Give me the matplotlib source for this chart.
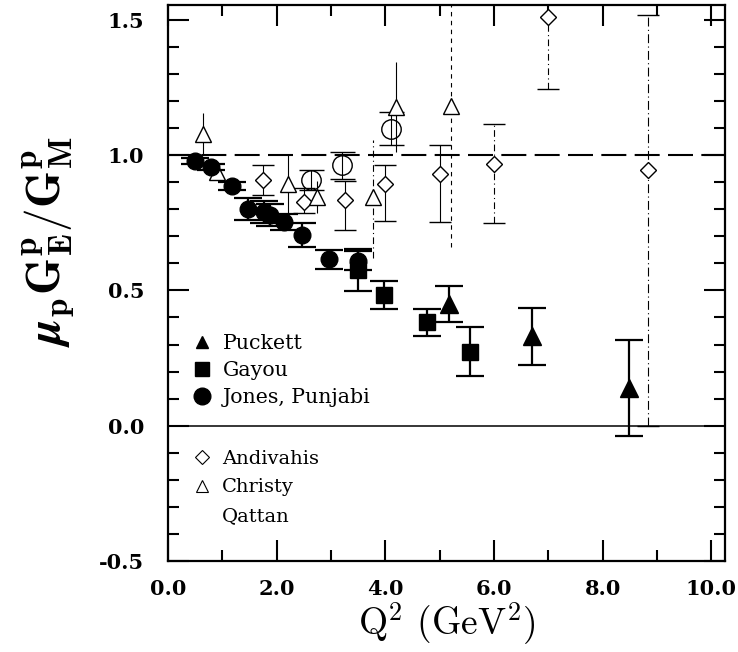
import matplotlib
matplotlib.use("Agg")
import matplotlib.pyplot as plt
from matplotlib.lines import Line2D
from matplotlib.ticker import MultipleLocator, FormatStrFormatter

plt.rcParams['mathtext.fontset'] = 'cm'
plt.rcParams['axes.unicode_minus'] = True

# ---------------- data ----------------
jones_q2 = [0.49, 0.79, 1.18, 1.48, 1.77, 1.88, 2.13, 2.47, 2.97, 3.50]
jones_r = [0.978, 0.957, 0.887, 0.800, 0.789, 0.779, 0.752, 0.705, 0.615, 0.610]
jones_err = [0.010, 0.012, 0.015, 0.040, 0.040, 0.040, 0.030, 0.043, 0.035, 0.035]

gayou_q2 = [3.50, 3.97, 4.76, 5.56]
gayou_r = [0.575, 0.483, 0.382, 0.274]
gayou_err = [0.077, 0.052, 0.050, 0.090]

puckett_q2 = [5.17, 6.70, 8.49]
puckett_r = [0.449, 0.330, 0.140]
puckett_err = [0.067, 0.106, 0.178]

andivahis_q2 = [1.75, 2.50, 3.25, 4.00, 5.00, 6.00, 7.00, 8.83]
andivahis_r = [0.908, 0.828, 0.835, 0.895, 0.932, 0.969, 1.510, 0.945]
andivahis_lo = [0.055, 0.040, 0.110, 0.140, 0.178, 0.220, 0.265, 0.945]
andivahis_hi = [0.055, 0.050, 0.070, 0.068, 0.105, 0.148, 0.265, 0.572]

christy_q2 = [0.65, 0.90, 2.20, 2.75, 3.78, 4.20, 5.20]
christy_r = [1.080, 0.938, 0.895, 0.846, 0.846, 1.178, 1.180]
christy_lo = [0.075, 0.030, 0.107, 0.060, 0.226, 0.165, 0.520]
christy_hi = [0.075, 0.030, 0.107, 0.060, 0.210, 0.165, 0.520]

qattan_q2 = [2.64, 3.20, 4.10]
qattan_r = [0.908, 0.963, 1.098]
qattan_err = [0.036, 0.050, 0.060]

x_ticks = [0.0, 2.0, 4.0, 6.0, 8.0, 10.0]
y_ticks = [-0.5, 0.0, 0.5, 1.0, 1.5]

filled_labels = ["Puckett", "Gayou", "Jones, Punjabi"]
open_labels = ["Andivahis", "Christy", "Qattan"]

# error-bar line styles (style only)
andivahis_ls = ['solid', 'solid', 'solid', 'solid', 'solid', (0, (6, 3, 1, 3)), (0, (6, 3, 1, 3)), (0, (8, 3, 1, 3))]
christy_ls = ['solid', 'solid', 'solid', 'solid', (0, (6, 3, 1, 3)), 'solid', (0, (4, 4))]

# ---------------- figure ----------------
fig = plt.figure(figsize=(7.38, 6.52), dpi=100)
ax = fig.add_axes([168/738, 1-561/652, (725-168)/738, (561-5)/652])

ax.set_xlim(0, 10.25)
ax.set_ylim(-0.5, 1.555)

# reference lines
ax.axhline(1.0, color='k', lw=1.5, ls=(0, (12, 4)), zorder=1)
ax.axhline(0.0, color='k', lw=1.1, zorder=1)

# open symbols (thin)
eb = ax.errorbar(andivahis_q2, andivahis_r, yerr=[andivahis_lo, andivahis_hi], fmt='D',
                 ms=8.5, mfc='white', mec='k', mew=1.0, ecolor='k', elinewidth=0.8,
                 capsize=8, capthick=0.8, zorder=3)
eb[2][0].set_linestyles(andivahis_ls)
eb = ax.errorbar(christy_q2, christy_r, yerr=[christy_lo, christy_hi], fmt='^',
                 ms=12, mfc='white', mec='k', mew=1.0, ecolor='k', elinewidth=0.8,
                 capsize=0, zorder=3)
eb[2][0].set_linestyles(christy_ls)
ax.errorbar(qattan_q2, qattan_r, yerr=qattan_err, fmt='o',
            ms=14, mfc='none', mec='k', mew=1.0, ecolor='k', elinewidth=0.8,
            capsize=9, capthick=1.2, zorder=3)

# filled symbols
ax.errorbar(jones_q2, jones_r, yerr=jones_err, fmt='o', ms=12, color='k',
            elinewidth=1.6, capsize=10, capthick=1.6, zorder=4)
ax.errorbar(gayou_q2, gayou_r, yerr=gayou_err, fmt='s', ms=11, color='k',
            elinewidth=1.6, capsize=10, capthick=1.6, zorder=4)
ax.errorbar(puckett_q2, puckett_r, yerr=puckett_err, fmt='^', ms=13, color='k',
            elinewidth=1.6, capsize=10, capthick=1.6, zorder=4)

# ticks
ax.set_xticks(x_ticks)
ax.set_yticks(y_ticks)
ax.xaxis.set_minor_locator(MultipleLocator(1.0))
ax.yaxis.set_minor_locator(MultipleLocator(0.1))
ax.xaxis.set_major_formatter(FormatStrFormatter('%.1f'))
ax.yaxis.set_major_formatter(FormatStrFormatter('%.1f'))
ax.tick_params(which='both', direction='in', top=True, right=True, width=1.5, colors='k')
ax.tick_params(which='major', length=15)
ax.tick_params(which='minor', length=8)
ax.tick_params(axis='x', which='major', pad=13)
ax.tick_params(axis='y', which='major', pad=17)
for lab in ax.get_xticklabels() + ax.get_yticklabels():
    lab.set_fontfamily('DejaVu Serif')
    lab.set_fontweight('bold')
    lab.set_fontsize(15)
for sp in ax.spines.values():
    sp.set_linewidth(1.6)

# axis labels
ax.set_xlabel(r'Q$^2$ (GeV$^2$)', fontsize=27, fontfamily='cmr10', labelpad=1)
ax.set_ylabel(r'$\boldsymbol{\mu}_{\mathbf{p}}\mathbf{G}^{\mathbf{p}}_{\mathbf{E}}/\mathbf{G}^{\mathbf{p}}_{\mathbf{M}}$',
              fontsize=34)
ax.yaxis.set_label_coords(-0.163, 0.575)

# legends
h1 = [Line2D([], [], ls='none', marker='^', ms=9, color='k'),
      Line2D([], [], ls='none', marker='s', ms=9.5, color='k'),
      Line2D([], [], ls='none', marker='o', ms=12, color='k')]
leg1 = ax.legend(h1, filled_labels, loc='upper left', bbox_to_anchor=(0.024, 0.426),
                 frameon=False, borderpad=0, handlelength=1.0, handletextpad=0.5,
                 labelspacing=0.38, prop={'family': 'DejaVu Serif', 'size': 14.8})
ax.add_artist(leg1)
h2 = [Line2D([], [], ls='none', marker='D', ms=7, mfc='white', mec='k', mew=0.8),
      Line2D([], [], ls='none', marker='^', ms=9, mfc='white', mec='k', mew=0.8),
      Line2D([], [], ls='none', marker='none')]
leg2 = ax.legend(h2, open_labels, loc='upper left', bbox_to_anchor=(0.027, 0.218),
                 frameon=False, borderpad=0, handlelength=1.0, handletextpad=0.5,
                 labelspacing=0.56, prop={'family': 'DejaVu Serif', 'size': 14})

fig.savefig('out.png', dpi=100)
